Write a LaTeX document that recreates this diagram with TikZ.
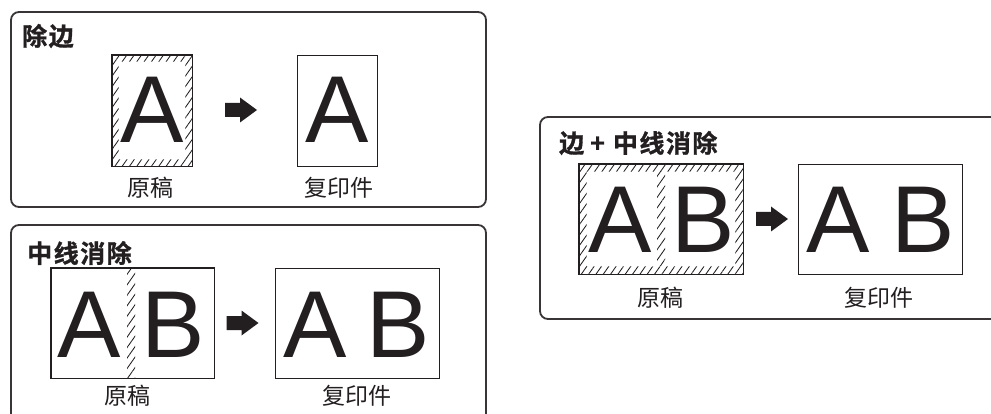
\documentclass[tikz,border=0pt]{standalone}
\usepackage{fontspec}
\setmainfont{Liberation Sans}
\newfontfamily\cjk{Noto Sans CJK SC}
\newfontfamily\cjkb{Noto Sans CJK SC Bold}[FakeBold=1.2,LetterSpace=6]
\usetikzlibrary{patterns.meta}
\definecolor{ink}{HTML}{231F20}
\tikzset{
  frame/.style={draw=ink!90, line width=1.8pt, rounded corners=8pt},
  paper/.style={draw=ink, line width=0.9pt, inner sep=0pt, fill=white},
  big/.style={inner sep=0pt, anchor=base, text=ink, font=\fontsize{95}{95}\selectfont},
  ttl/.style={inner sep=0pt, anchor=west, text=ink, font=\cjkb\fontsize{25}{25}\selectfont},
  lbl/.style={inner sep=0pt, text=ink, font=\cjk\fontsize{23}{23}\selectfont},
  hatch/.style={pattern={Lines[angle=55,distance=6pt,line width=0.85pt]}, pattern color=ink},
  blockarrow/.pic={\fill[ink] (-16,-7) -- (-1,-7) -- (-1,-12.5) -- (16,0) -- (-1,12.5) -- (-1,7) -- (-16,7) -- cycle;}
}
\begin{document}
\begin{tikzpicture}[x=1pt,y=-1pt]
\useasboundingbox (0,0) rectangle (991,414);
\clip (0,0) rectangle (991,414);
\fill[white] (0,0) rectangle (991,414);

% ---------- panel 1 ----------
\draw[frame] (11,12) rectangle (486,207);
\node[ttl] (t1) at (22,36) {除边};
\node[paper, minimum width=80, minimum height=111] (o1) at (152,110.5) {};
\fill[hatch, even odd rule] (o1.south west) rectangle (o1.north east)
  ([shift={(7,-7)}]o1.south west) rectangle ([shift={(-7,7)}]o1.north east);
\draw[ink, line width=0.9pt] (o1.south west) rectangle (o1.north east);
\node[big] (oa1) at (152,143) {A};
\pic at (241,110) {blockarrow};
\node[paper, minimum width=80, minimum height=111] (c1) at (337,110.5) {};
\node[big] (ca1) at (337,143) {A};
\node[lbl] (lo1) at (150,187.5) {原稿};
\node[lbl] (lc1) at (339,187.5) {复印件};

% ---------- panel 2 ----------
\draw[frame] (11,225) rectangle (486,440);
\node[ttl] (t2) at (27,253) {中线消除};
\node[paper, minimum width=163, minimum height=110] (o2) at (132.5,323) {};
\fill[hatch] (127,268) rectangle (135,378);
\draw[ink, line width=0.9pt] (o2.south west) rectangle (o2.north east);
\node[big] (oa2) at (89.5,357) {A};
\node[big] (ob2) at (173,357) {B};
\pic at (242.5,323) {blockarrow};
\node[paper, minimum width=164, minimum height=110] (c2) at (357,323) {};
\node[big] (ca2) at (315,357) {A};
\node[big] (cb2) at (398,357) {B};
\node[lbl] (lo2) at (127,396) {原稿};
\node[lbl] (lc2) at (357,396) {复印件};

% ---------- panel 3 ----------
\draw[frame] (540,117) rectangle (1010,319);
\node[ttl] (t3) at (559,143) {边\hspace{6pt}+\hspace{8pt}中线消除};
\node[paper, minimum width=164, minimum height=110] (o3) at (661,219) {};
\fill[hatch, even odd rule] (o3.south west) rectangle (o3.north east)
  ([shift={(8,-8)}]o3.south west) rectangle ([shift={(-8,8)}]o3.north east);
\fill[hatch] (657,172) rectangle (665,266);
\draw[ink, line width=0.9pt] (o3.south west) rectangle (o3.north east);
\node[big] (oa3) at (620,253) {A};
\node[big] (ob3) at (703,253) {B};
\pic at (772,219) {blockarrow};
\node[paper, minimum width=164, minimum height=110] (c3) at (880,219) {};
\node[big] (ca3) at (838,253) {A};
\node[big] (cb3) at (923,253) {B};
\node[lbl] (lo3) at (660,297.5) {原稿};
\node[lbl] (lc3) at (879,297.5) {复印件};
\end{tikzpicture}
\end{document}
